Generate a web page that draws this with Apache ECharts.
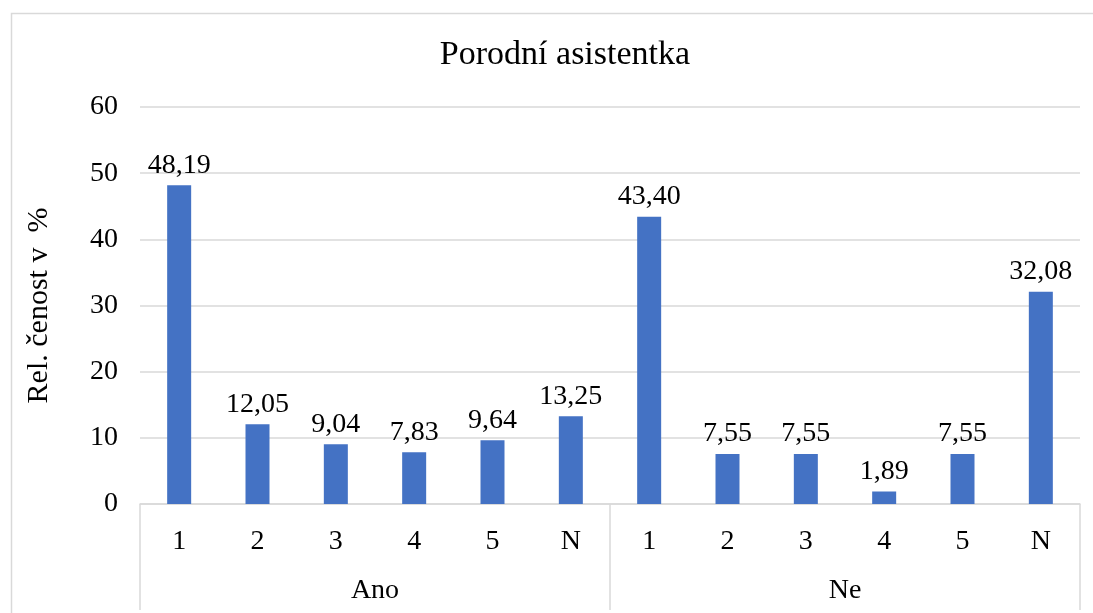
<!DOCTYPE html>
<html>
<head>
<meta charset="utf-8">
<script src="https://cdn.jsdelivr.net/npm/echarts@6/dist/echarts.min.js"></script>
<style>
  html, body { margin: 0; padding: 0; background: #ffffff; }
  #chart { width: 1093px; height: 613px; }
</style>
</head>
<body>
<div id="chart"></div>
<script>
// Relative frequencies (%) of ratings for the midwife, split by answer group
const groups = ['Ano', 'Ne'];
const ratings = ['1', '2', '3', '4', '5', 'N'];
const anoValues = [48.19, 12.05, 9.04, 7.83, 9.64, 13.25];
const neValues = [43.40, 7.55, 7.55, 1.89, 7.55, 32.08];
const yTicks = { min: 0, max: 60, interval: 10 };

const FONT = '"Liberation Serif", "Times New Roman", serif';
const GRID_COLOR = '#d9d9d9';

// one category slot per (group, rating) pair
const categories = [];
groups.forEach(() => ratings.forEach(r => categories.push(r)));
const values = anoValues.concat(neValues);

const fmt = v => v.toFixed(2).replace('.', ',');

const chart = echarts.init(document.getElementById('chart'), null, { renderer: 'canvas' });

chart.setOption({
  animation: false,
  backgroundColor: '#ffffff',
  title: {
    text: 'Porodní asistentka',
    left: 560,
    top: 33,
    textAlign: 'center',
    textStyle: { fontFamily: FONT, fontSize: 34, fontWeight: 'normal', color: '#000000' }
  },
  graphic: [{
    type: 'rect',
    shape: { x: 11.5, y: 13.5, width: 1200, height: 700 },
    style: { fill: null, stroke: GRID_COLOR, lineWidth: 1.5 },
    silent: true,
    z: -1
  }],
  grid: { left: 140, right: 13, top: 107, bottom: 109, containLabel: false },
  xAxis: [{
    type: 'category',
    data: categories,
    boundaryGap: true,
    axisLine: { show: true, lineStyle: { color: GRID_COLOR, width: 1.5 } },
    axisTick: { show: false },
    axisLabel: { fontFamily: FONT, fontSize: 28, color: '#000000', margin: 24, interval: 0 }
  }, {
    type: 'category',
    data: groups,
    position: 'bottom',
    boundaryGap: true,
    axisLine: { show: false },
    axisTick: { show: true, length: 106, lineStyle: { color: GRID_COLOR, width: 1.5 } },
    axisLabel: { fontFamily: FONT, fontSize: 28, color: '#000000', margin: 73, interval: 0 }
  }],
  yAxis: {
    type: 'value',
    min: yTicks.min,
    max: yTicks.max,
    interval: yTicks.interval,
    name: 'Rel. čenost v  %',
    nameLocation: 'middle',
    nameGap: 86,
    nameRotate: 90,
    nameTextStyle: { fontFamily: FONT, fontSize: 30, color: '#000000' },
    axisLine: { show: false },
    axisTick: { show: false },
    axisLabel: { fontFamily: FONT, fontSize: 28, color: '#000000', margin: 22 },
    splitLine: { show: true, lineStyle: { color: GRID_COLOR, width: 1.5 } }
  },
  series: [{
    type: 'bar',
    xAxisIndex: 0,
    data: values,
    barWidth: 24,
    itemStyle: { color: '#4472C4' },
    label: {
      show: true,
      position: 'top',
      distance: 6,
      formatter: p => fmt(p.value),
      fontFamily: FONT,
      fontSize: 28,
      color: '#000000'
    }
  }]
});
</script>
</body>
</html>
